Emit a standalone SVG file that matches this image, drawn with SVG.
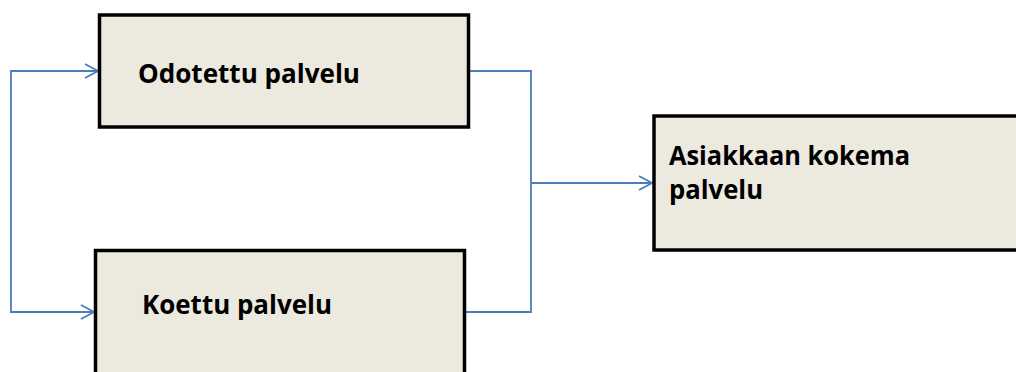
<svg xmlns="http://www.w3.org/2000/svg" width="1016" height="372" viewBox="0 0 1016 372">
<style>
.box{fill:#ECE9DF;stroke:#000;stroke-width:3.5}
.lbl{font-family:"Open Sans","Liberation Sans",sans-serif;font-weight:bold;font-size:27.5px;fill:#000}
.con{fill:none;stroke:#4A7EBB;stroke-width:1.8}
</style>
<defs>
<marker id="arr" markerWidth="16" markerHeight="16" refX="14" refY="8" orient="auto" markerUnits="userSpaceOnUse">
<path d="M1,1 L14,8 L1,15" fill="none" stroke="#4A7EBB" stroke-width="1.8"/>
</marker>
</defs>
<g id="connectors">
<path class="con" d="M469,71 H531 V312 H465"/>
<path class="con" d="M531,183 H652" marker-end="url(#arr)"/>
<path class="con" d="M98,71 H11 V312 H94" marker-end="url(#arr)"/>
<path class="con" d="M11,71 H98" marker-end="url(#arr)"/>
</g>
<g id="node-odotettu">
<rect class="box" x="99.5" y="15" width="369" height="112"/>
<text class="lbl" x="138" y="83" textLength="222" lengthAdjust="spacingAndGlyphs">Odotettu palvelu</text>
</g>
<g id="node-koettu">
<rect class="box" x="95.5" y="250.5" width="369" height="140"/>
<text class="lbl" x="142" y="314" textLength="190" lengthAdjust="spacingAndGlyphs">Koettu palvelu</text>
</g>
<g id="node-asiakkaan">
<rect class="box" x="654" y="116" width="380" height="134"/>
<text class="lbl" x="669" y="165" textLength="241" lengthAdjust="spacingAndGlyphs">Asiakkaan kokema</text>
<text class="lbl" x="669" y="199" textLength="94" lengthAdjust="spacingAndGlyphs">palvelu</text>
</g>
</svg>
